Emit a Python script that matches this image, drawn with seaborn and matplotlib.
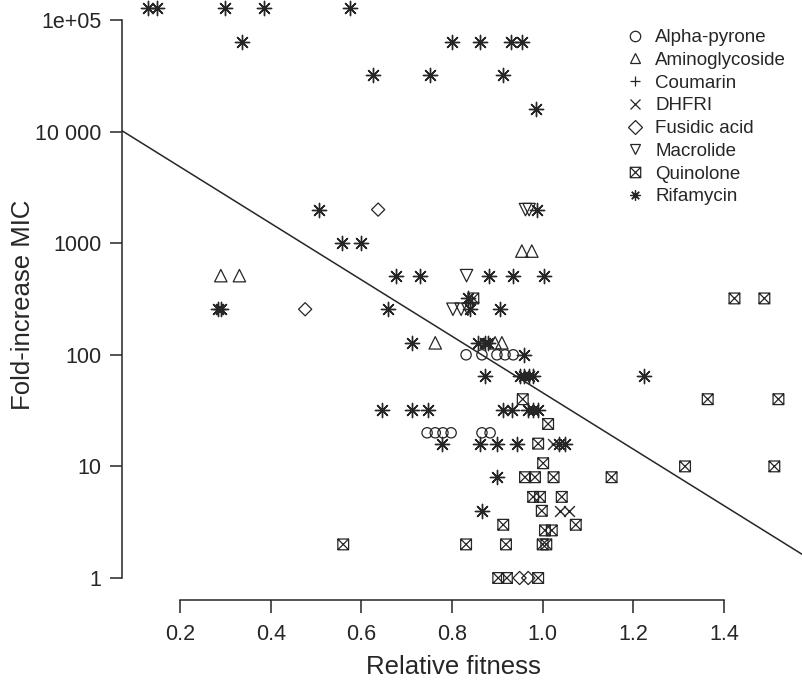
import numpy as np
import matplotlib.pyplot as plt
import seaborn as sns
from matplotlib.path import Path
from matplotlib.lines import Line2D
from matplotlib.ticker import NullLocator

# values: relative fitness (x) and fold-increase MIC (y)
alpha_x = [0.831, 0.866, 0.899, 0.917, 0.935, 0.745, 0.763, 0.780, 0.798, 0.866, 0.884]
alpha_y = [100, 100, 100, 100, 100, 20, 20, 20, 20, 20, 20]

amino_x = [0.290, 0.331, 0.954, 0.976, 0.763, 0.895, 0.910]
amino_y = [512, 512, 850, 850, 128, 128, 128]

coum_x = [0.845]
coum_y = [300]

dhfri_x = [1.023, 1.038, 1.057]
dhfri_y = [16, 4, 4]

fusidic_x = [0.637, 0.476, 0.949, 0.968]
fusidic_y = [2000, 256, 1, 1]

macro_x = [0.962, 0.970, 0.832, 0.802, 0.820, 0.835]
macro_y = [2000, 2000, 512, 256, 256, 256]

quino_x = [0.560, 0.831, 0.919, 1.000, 1.008, 0.902, 0.921, 0.990, 0.913, 1.073,
           1.005, 1.020, 0.998, 0.979, 0.994, 1.042, 0.961, 0.983, 1.024, 1.152,
           1.001, 0.990, 1.012, 0.956, 0.847, 1.423, 1.489, 1.364, 1.520, 1.314, 1.511]
quino_y = [2, 2, 2, 2, 2, 1, 1, 1, 3, 3,
           2.67, 2.67, 4, 5.33, 5.33, 5.33, 8, 8, 8, 8,
           10.67, 16, 24, 40, 320, 320, 320, 40, 40, 10, 10]

rifa_x = [0.129, 0.149, 0.299, 0.385, 0.575, 0.336, 0.799, 0.862, 0.930, 0.954,
          0.626, 0.752, 0.912, 0.985, 0.507, 0.987, 0.557, 0.599, 0.676, 0.729,
          0.882, 0.934, 1.003, 0.284, 0.291, 0.659, 0.906, 0.840, 0.836, 0.711,
          0.858, 0.873, 0.880, 0.959, 0.873, 0.949, 0.958, 0.969, 0.978, 1.224,
          0.645, 0.711, 0.746, 0.913, 0.932, 0.968, 0.979, 0.990, 0.777, 0.862,
          0.899, 0.944, 1.035, 1.049, 0.899, 0.866]
rifa_y = [128000, 128000, 128000, 128000, 128000, 64000, 64000, 64000, 64000, 64000,
          32000, 32000, 32000, 16000, 2000, 2000, 1000, 1000, 512, 512,
          512, 512, 512, 256, 256, 256, 256, 256, 320, 128,
          128, 128, 128, 100, 64, 64, 64, 64, 64, 64,
          32, 32, 32, 32, 32, 32, 32, 32, 16, 16,
          16, 16, 16, 16, 8, 4]

# fitted line, log10(MIC) = a + b * fitness
fit_a = 4.19
fit_b = -2.53

y_ticks = [1, 10, 100, 1000, 10000, 100000]
y_ticklabels = ['1', '10', '100', '1000', '10 000', '1e+05']
x_ticks = [0.2, 0.4, 0.6, 0.8, 1.0, 1.2, 1.4]
x_ticklabels = ['0.2', '0.4', '0.6', '0.8', '1.0', '1.2', '1.4']

sns.set_style('ticks')
plt.rcParams['font.family'] = ['Liberation Sans', 'DejaVu Sans']

ink = '#262626'

# boxed x (R pch 7)
box_x = Path([(-1, -1), (1, -1), (1, 1), (-1, 1), (-1, -1), (-1, -1), (1, 1), (-1, 1), (1, -1)],
             [Path.MOVETO, Path.LINETO, Path.LINETO, Path.LINETO, Path.CLOSEPOLY,
              Path.MOVETO, Path.LINETO, Path.MOVETO, Path.LINETO])
asterisk = (8, 2, 0)

groups = [
    ('Alpha-pyrone', alpha_x, alpha_y, 'o', 55, True),
    ('Aminoglycoside', amino_x, amino_y, '^', 80, True),
    ('Coumarin', coum_x, coum_y, '+', 90, False),
    ('DHFRI', dhfri_x, dhfri_y, 'x', 60, False),
    ('Fusidic acid', fusidic_x, fusidic_y, 'D', 45, True),
    ('Macrolide', macro_x, macro_y, 'v', 80, True),
    ('Quinolone', quino_x, quino_y, box_x, 60, True),
    ('Rifamycin', rifa_x, rifa_y, asterisk, 105, False),
]

fig = plt.figure(figsize=(8.02, 6.84), dpi=100)
ax = fig.add_axes([122 / 802, 84 / 684, 680 / 802, 600 / 684])

for name, xs, ys, m, s, fillable in groups:
    if fillable:
        sns.scatterplot(x=xs, y=ys, marker=m, s=s, facecolors='none', edgecolor=ink,
                        linewidth=0.9, ax=ax, zorder=3)
    else:
        sns.scatterplot(x=xs, y=ys, marker=m, s=s, color=ink, linewidth=1.0, ax=ax, zorder=3)

ax.set_yscale('log')
xlim = (0.072, 1.572)
ax.set_xlim(*xlim)
ax.set_ylim(10 ** (-22 / 111.6), 10 ** (578 / 111.6))

fx = np.array(xlim)
ax.plot(fx, 10 ** (fit_a + fit_b * fx), color=ink, lw=1.1, zorder=2)

ax.set_yticks(y_ticks)
ax.set_yticklabels(y_ticklabels)
ax.yaxis.set_minor_locator(NullLocator())
ax.set_xticks(x_ticks)
ax.set_xticklabels(x_ticklabels)

for side in ['top', 'right']:
    ax.spines[side].set_visible(False)
ax.spines['left'].set_bounds(1, 100000)
ax.spines['bottom'].set_bounds(0.2, 1.4)
for side in ['left', 'bottom']:
    ax.spines[side].set_color(ink)
    ax.spines[side].set_linewidth(1.1)

ax.tick_params(axis='both', which='major', direction='out', length=9, width=1.1,
               color=ink, labelcolor=ink, labelsize=15.5, left=True, bottom=True)
ax.tick_params(axis='y', pad=6)
ax.tick_params(axis='x', pad=8)

ax.set_xlabel('Relative fitness', fontsize=18.5, color=ink)
ax.set_ylabel('Fold-increase MIC', fontsize=18.5, color=ink)
ax.xaxis.set_label_coords(0.487, -0.092)
ax.yaxis.set_label_coords(-0.128, 0.492)

handles = []
for name, xs, ys, m, s, fillable in groups:
    handles.append(Line2D([], [], linestyle='none', marker=m, markersize=7.5,
                          color=ink, markerfacecolor='none', markeredgecolor=ink,
                          markeredgewidth=0.9, label=name))
leg = ax.legend(handles=handles, loc='upper left', bbox_to_anchor=(626 / 802, 1 - 29 / 684),
                bbox_transform=fig.transFigure, frameon=False, fontsize=13.5,
                handlelength=1.0, handletextpad=0.55, labelspacing=0.30, borderpad=0,
                borderaxespad=0)
for t in leg.get_texts():
    t.set_color(ink)

fig.savefig('out.png', dpi=100)
